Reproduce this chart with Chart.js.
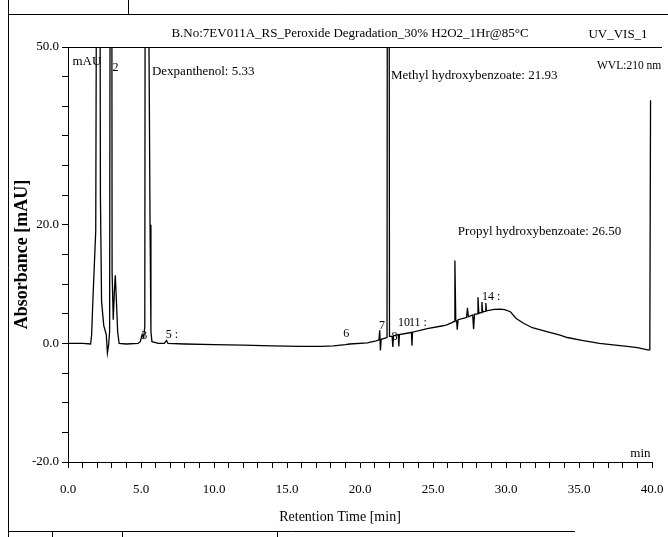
<!DOCTYPE html>
<html>
<head>
<meta charset="utf-8">
<script src="https://cdn.jsdelivr.net/npm/chart.js@4.4.1/dist/chart.umd.min.js"></script>
<style>
  html, body { margin: 0; padding: 0; background: #fff; }
  canvas { display: block; }
</style>
</head>
<body>
<canvas id="chromChart" width="668" height="537"></canvas>
<script>
// Chromatogram trace: retention time (min) and absorbance (mAU)
const retentionTime = [
    0.00, 1.00, 1.55, 1.62, 1.70, 1.90, 2.10, 2.22, 2.30, 2.45, 2.62, 2.70, 2.78,
    2.85, 2.96, 3.02, 3.10, 3.18, 3.24, 3.32, 3.40, 3.50, 4.00, 4.80, 4.95, 5.08,
    5.18, 5.26, 5.33, 5.50, 5.62, 5.68, 5.75, 6.20, 6.60, 6.75, 6.85, 8.00, 10.00,
    12.00, 14.00, 15.90, 17.30, 18.20, 19.00, 19.30, 20.50, 21.10, 21.30, 21.35,
    21.40, 21.45, 21.85, 21.93, 22.02, 22.20, 22.25, 22.30, 22.50, 22.62, 22.66,
    22.70, 23.40, 23.52, 23.56, 23.60, 24.60, 25.50, 25.90, 26.30, 26.44, 26.50,
    26.56, 26.62, 26.66, 26.72, 27.20, 27.30, 27.36, 27.42, 27.72, 27.78, 27.84,
    28.02, 28.08, 28.14, 28.30, 28.35, 28.40, 28.58, 28.62, 28.66, 29.20, 29.60,
    29.90, 30.30, 30.70, 31.20, 31.80, 32.80, 33.70, 34.20, 35.20, 36.40, 37.50,
    38.30, 39.00, 39.70, 39.85, 39.90
];
const absorbance = [
    0.0, 0.0, -0.1, 1.5, 7.0, 19.0, 200.0, 25.0, 7.0, 3.0, 1.5, -1.6, -0.3,
    2.0, 200.0, 12.0, 4.0, 9.0, 11.5, 7.0, 2.0, 0.0, -0.1, 0.0, 0.3, 1.5,
    1.0, 2.8, 180.0, 70.0, 20.0, 2.0, 0.3, 0.0, 0.0, 0.5, 0.0, -0.1, -0.2,
    -0.3, -0.4, -0.5, -0.5, -0.4, -0.2, -0.1, 0.1, 0.45, 0.6, 2.2,
    -1.2, 0.7, 1.0, 250.0, 1.2, 1.2, -0.6, 1.3, 1.4, 1.5, -0.5,
    1.5, 1.8, 1.9, -0.4, 1.9, 2.5, 2.9, 3.1, 3.5, 3.7, 14.0,
    3.9, 3.8, 2.3, 4.0, 4.3, 4.4, 6.0, 4.5, 4.8, 2.4, 4.9,
    5.0, 7.8, 5.1, 5.2, 7.0, 5.3, 5.4, 6.8, 5.5, 5.75, 5.8,
    5.7, 5.35, 4.2, 3.4, 2.65, 2.0, 1.4, 1.0, 0.5, 0.0, -0.3,
    -0.5, -0.7, -1.1, -1.1, 41.0
];

// Named peaks (label text carries the retention time)
const peakNames = ['Dexpanthenol', 'Methyl hydroxybenzoate', 'Propyl hydroxybenzoate'];
const peakTimes = [5.33, 21.93, 26.50];
const peakLabelX = [5.75, 22.12, 26.70];
const peakLabelY = [45.8, 45.1, 18.8];

// Peak numbers written along the baseline
const peakNumbers = ['2', '3', '5 :', '6', '7', '8', '10', '11 :', '14 :'];
const peakNumberX = [3.05, 5.02, 6.70, 18.85, 21.30, 22.15, 22.60, 23.35, 28.35];
const peakNumberY = [46.4, 1.3, 1.4, 1.6, 2.9, 1.1, 3.4, 3.4, 7.8];

// Axis ticks
const xMin = 0, xMax = 40, xStep = 1, xLabelEvery = 5;
const yMin = -20, yMax = 50, yStep = 5;
const yLabelled = [50, 20, 0, -20];

const serif = '"Liberation Serif", "Times New Roman", serif';

const tracePoints = retentionTime.map((t, i) => ({ x: t, y: absorbance[i] }));

// Frame, header texts and peak annotations
const annotations = {
    id: 'annotations',
    afterDraw(chart) {
        const { ctx, chartArea: area, scales: { x, y } } = chart;
        ctx.save();
        ctx.strokeStyle = '#000';
        ctx.fillStyle = '#000';
        ctx.lineWidth = 1;

        const seg = (x1, y1, x2, y2) => {
            ctx.beginPath();
            ctx.moveTo(x1, y1);
            ctx.lineTo(x2, y2);
            ctx.stroke();
        };
        // page border
        seg(8.5, 14.5, 668, 14.5);
        seg(8.5, 0, 8.5, 537);
        seg(128.5, 0, 128.5, 14);
        seg(8.5, 531.5, 575, 531.5);
        seg(52.5, 531, 52.5, 537);
        seg(122.5, 531, 122.5, 537);
        seg(277.5, 531, 277.5, 537);
        // top rule of the plot
        seg(area.left, Math.round(area.top) + 0.5, 662, Math.round(area.top) + 0.5);

        ctx.textBaseline = 'middle';
        ctx.font = '13px ' + serif;
        ctx.textAlign = 'center';
        ctx.fillText('B.No:7EV011A_RS_Peroxide Degradation_30% H2O2_1Hr@85°C', 350, 34);
        ctx.fillText('UV_VIS_1', 618, 35);
        ctx.font = '14px ' + serif;
        ctx.fillText('Retention Time [min]', 340, 517);
        ctx.font = '11.5px ' + serif;
        ctx.textAlign = 'left';
        ctx.fillText('WVL:210 nm', 597, 66);

        // unit labels
        ctx.font = '13px ' + serif;
        ctx.fillText('mAU', x.getPixelForValue(0.3), y.getPixelForValue(47.6));
        ctx.textAlign = 'right';
        ctx.fillText('min', x.getPixelForValue(39.9), y.getPixelForValue(-18.6));

        // named peaks
        ctx.textAlign = 'left';
        ctx.font = '13px ' + serif;
        peakNames.forEach((name, i) => {
            ctx.fillText(name + ': ' + peakTimes[i].toFixed(2),
                x.getPixelForValue(peakLabelX[i]), y.getPixelForValue(peakLabelY[i]));
        });

        // peak numbers
        ctx.font = '12px ' + serif;
        peakNumbers.forEach((txt, i) => {
            ctx.fillText(txt, x.getPixelForValue(peakNumberX[i]), y.getPixelForValue(peakNumberY[i]));
        });
        ctx.restore();
    }
};

new Chart(document.getElementById('chromChart'), {
    type: 'scatter',
    data: {
        datasets: [{
            data: tracePoints,
            showLine: true,
            borderColor: '#000',
            borderWidth: 1.3,
            pointRadius: 0,
            tension: 0,
            fill: false
        }]
    },
    options: {
        responsive: false,
        animation: false,
        devicePixelRatio: 1,
        layout: { padding: { top: 47, right: 16, left: 0, bottom: 0 } },
        plugins: {
            legend: { display: false },
            tooltip: { enabled: false }
        },
        scales: {
            x: {
                type: 'linear',
                min: xMin,
                max: xMax,
                afterFit: s => {
                    s.height = 75;
                    s.paddingLeft = 0;
                    s.paddingRight = 0;
                },
                ticks: {
                    stepSize: xStep,
                    autoSkip: false,
                    maxRotation: 0,
                    padding: 14,
                    color: '#000',
                    font: { family: serif, size: 13 },
                    callback: v => (v % xLabelEvery === 0 ? v.toFixed(1) : '')
                },
                grid: { drawOnChartArea: false, tickLength: 6, tickColor: '#000' },
                border: { color: '#000', width: 1 }
            },
            y: {
                type: 'linear',
                min: yMin,
                max: yMax,
                afterFit: s => { s.width = 68; },
                ticks: {
                    stepSize: yStep,
                    autoSkip: false,
                    padding: 3,
                    color: '#000',
                    font: { family: serif, size: 13 },
                    callback: v => (yLabelled.includes(v) ? v.toFixed(1) : '')
                },
                grid: { drawOnChartArea: false, tickLength: 6, tickColor: '#000' },
                border: { color: '#000', width: 1 },
                title: {
                    display: true,
                    text: 'Absorbance [mAU]',
                    color: '#000',
                    font: { family: serif, size: 18, weight: 'bold' },
                    padding: { top: 12, bottom: 0 }
                }
            }
        }
    },
    plugins: [annotations]
});
</script>
</body>
</html>
